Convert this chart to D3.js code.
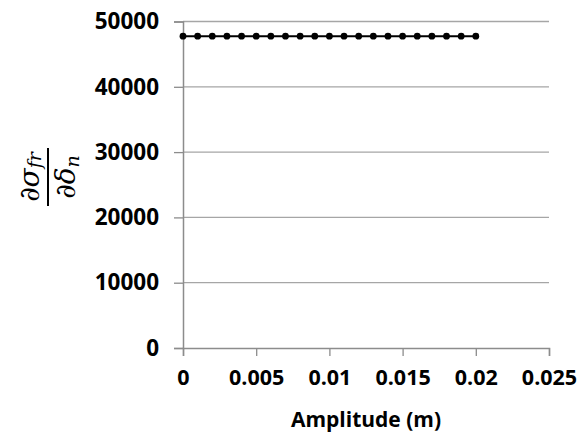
<!DOCTYPE html>
<html>
<head>
<meta charset="utf-8">
<script src="https://cdn.jsdelivr.net/npm/d3@7"></script>
<style>
  html, body { margin: 0; padding: 0; background: #fff; }
  svg text { font-family: "Open Sans", Calibri, sans-serif; font-weight: bold; fill: #000; }
</style>
</head>
<body>
<svg id="chart" width="581" height="434"></svg>
<script>
// Amplitude sweep (m) and the resulting stiffness derivative
const amplitude = [0, 0.001, 0.002, 0.003, 0.004, 0.005, 0.006, 0.007, 0.008, 0.009, 0.010,
                   0.011, 0.012, 0.013, 0.014, 0.015, 0.016, 0.017, 0.018, 0.019, 0.020];
const stiffness = [47750, 47750, 47750, 47750, 47750, 47750, 47750, 47750, 47750, 47750, 47750,
                   47750, 47750, 47750, 47750, 47750, 47750, 47750, 47750, 47750, 47750];
const xTicks = [0, 0.005, 0.01, 0.015, 0.02, 0.025];
const yTicks = [0, 10000, 20000, 30000, 40000, 50000];

const svg = d3.select("#chart");
const x = d3.scaleLinear().domain([0, 0.025]).range([183, 549]);
const y = d3.scaleLinear().domain([0, 50000]).range([348, 21.5]);

// horizontal gridlines
svg.append("g").selectAll("line").data(yTicks.filter(d => d > 0)).join("line")
  .attr("x1", x(0)).attr("x2", x(0.025))
  .attr("y1", d => y(d)).attr("y2", d => y(d))
  .attr("stroke", "#a6a6a6").attr("stroke-width", 1.3);

// y axis
const yAxis = svg.append("g").attr("transform", `translate(${x(0)},0)`)
  .call(d3.axisLeft(y).tickValues(yTicks).tickSize(9).tickPadding(15).tickFormat(d3.format("d")));
yAxis.select(".domain").attr("stroke", "#8c8c8c").attr("stroke-width", 1.5);
yAxis.selectAll(".tick line").attr("stroke", "#8c8c8c").attr("stroke-width", 1.3);
yAxis.selectAll(".tick text").attr("font-size", 22.5).attr("font-family", null).attr("fill", "#000");

// x axis
const xAxis = svg.append("g").attr("transform", `translate(0,${y(0)})`)
  .call(d3.axisBottom(x).tickValues(xTicks).tickSize(8).tickPadding(14).tickFormat(d => String(d)));
xAxis.select(".domain").attr("stroke", "#8c8c8c").attr("stroke-width", 1.5);
xAxis.selectAll(".tick line").attr("stroke", "#8c8c8c").attr("stroke-width", 1.3);
xAxis.selectAll(".tick text").attr("font-size", 21.5).attr("font-family", null).attr("fill", "#000");

// series line and markers
const pts = amplitude.map((a, i) => [a, stiffness[i]]);
svg.append("path").datum(pts)
  .attr("fill", "none").attr("stroke", "#000").attr("stroke-width", 2)
  .attr("d", d3.line().x(d => x(d[0])).y(d => y(d[1])));
svg.append("g").selectAll("circle").data(pts).join("circle")
  .attr("cx", d => x(d[0])).attr("cy", d => y(d[1])).attr("r", 3.4).attr("fill", "#000");

// x axis title
svg.append("text").attr("x", (x(0) + x(0.025)) / 2).attr("y", 427)
  .attr("text-anchor", "middle").attr("font-size", 21).text("Amplitude (m)");

// y axis title: fraction ∂σ_fr / ∂δ_n, rotated
const yt = svg.append("g").attr("transform", "translate(48,177) rotate(-90)");
yt.append("line").attr("x1", -29).attr("x2", 29).attr("y1", 0).attr("y2", 0)
  .attr("stroke", "#000").attr("stroke-width", 2);
const num = yt.append("text").attr("text-anchor", "middle").attr("y", -9)
  .style("font-family", "'DejaVu Serif', 'Liberation Serif', serif").style("font-style", "italic")
  .style("font-weight", "normal").attr("font-size", 28);
num.append("tspan").text("∂σ");
num.append("tspan").attr("font-size", 19).attr("dy", 2).text("fr");
const den = yt.append("text").attr("text-anchor", "middle").attr("y", 27)
  .style("font-family", "'DejaVu Serif', 'Liberation Serif', serif").style("font-style", "italic")
  .style("font-weight", "normal").attr("font-size", 28);
den.append("tspan").text("∂δ");
den.append("tspan").attr("font-size", 19).attr("dy", 4).text("n");
</script>
</body>
</html>
